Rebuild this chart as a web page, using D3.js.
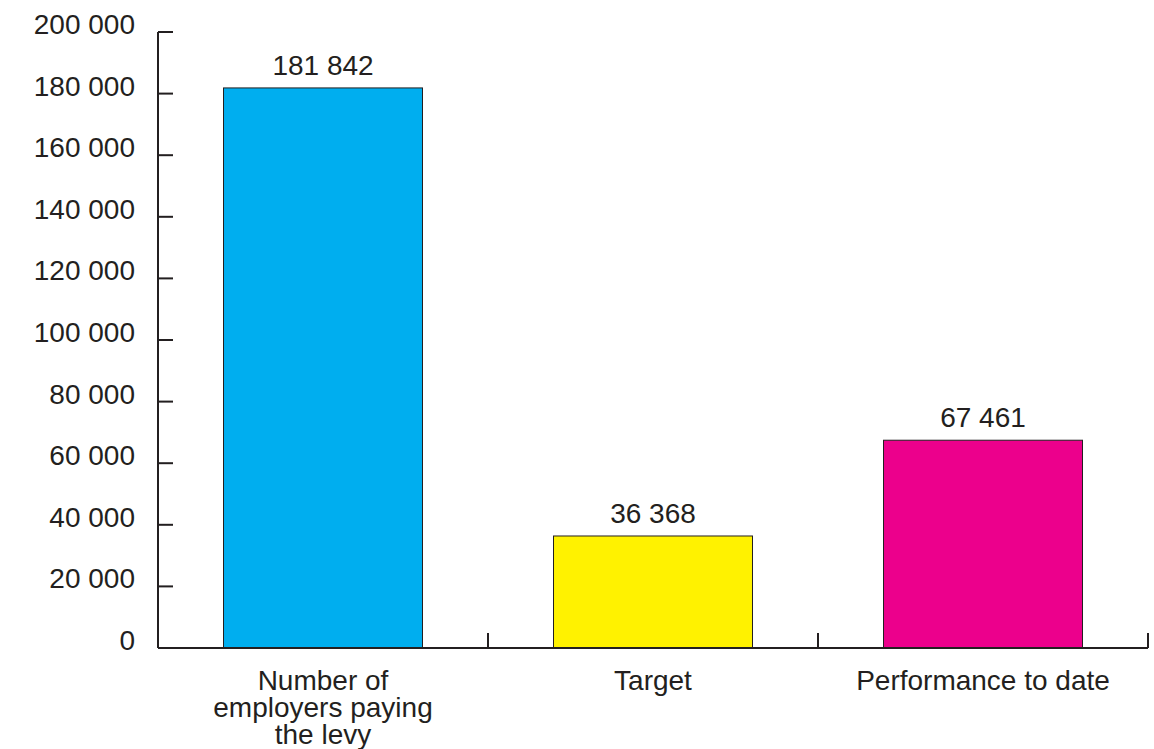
<!DOCTYPE html>
<html>
<head>
<meta charset="utf-8">
<script src="https://cdn.jsdelivr.net/npm/d3@7"></script>
<style>
  html, body { margin: 0; padding: 0; background: #ffffff; }
  svg { display: block; }
  text { font-family: "Liberation Sans", Arial, Helvetica, sans-serif; fill: #231f20; }
</style>
</head>
<body>
<svg id="chart" width="1154" height="749"></svg>
<script>
// Levy-paying employers: totals, target and performance so far
const categories = [
  ["Number of", "employers paying", "the levy"],
  ["Target"],
  ["Performance to date"]
];
const values = [181842, 36368, 67461];
const colors = ["#00aeef", "#fff200", "#ec008c"];
const yTicks = [0, 20000, 40000, 60000, 80000, 100000, 120000, 140000, 160000, 180000, 200000];

const svg = d3.select("#chart");
const ink = "#231f20";
const fontSize = 28;

const x0 = 158, x1 = 1148, yBase = 648, yTop = 32;

const x = d3.scaleBand()
  .domain(d3.range(values.length))
  .range([x0, x1])
  .paddingInner(0.397)
  .paddingOuter(0.1985);

const y = d3.scaleLinear().domain([0, 200000]).range([yBase, yTop]);

const fmt = v => d3.format(",")(v).replace(/,/g, " ");

// bars
svg.append("g").selectAll("rect")
  .data(values)
  .join("rect")
  .attr("x", (d, i) => x(i))
  .attr("y", d => y(d))
  .attr("width", x.bandwidth())
  .attr("height", d => yBase - y(d))
  .attr("fill", (d, i) => colors[i])
  .attr("stroke", ink)
  .attr("stroke-width", 1);

// y axis: vertical line with ticks pointing inward
const yAxis = svg.append("g");
yAxis.append("line")
  .attr("x1", x0).attr("x2", x0)
  .attr("y1", y(200000)).attr("y2", yBase)
  .attr("stroke", ink).attr("stroke-width", 2);
yAxis.selectAll("line.tick")
  .data(yTicks)
  .join("line")
  .attr("class", "tick")
  .attr("x1", x0).attr("x2", x0 + 15)
  .attr("y1", d => y(d)).attr("y2", d => y(d))
  .attr("stroke", ink).attr("stroke-width", 2);
yAxis.selectAll("text")
  .data(yTicks)
  .join("text")
  .attr("x", 135)
  .attr("y", d => y(d) + 2)
  .attr("text-anchor", "end")
  .attr("font-size", fontSize)
  .text(d => fmt(d));

// x axis: baseline with upward ticks at band boundaries
const xAxis = svg.append("g");
xAxis.append("line")
  .attr("x1", x0).attr("x2", x1)
  .attr("y1", yBase).attr("y2", yBase)
  .attr("stroke", ink).attr("stroke-width", 2);
const step = x.step();
const boundaries = d3.range(values.length).map(i => x(i) - x.paddingOuter() * step + step);
xAxis.selectAll("line.tick")
  .data(boundaries)
  .join("line")
  .attr("class", "tick")
  .attr("x1", d => d).attr("x2", d => d)
  .attr("y1", yBase).attr("y2", yBase - 15)
  .attr("stroke", ink).attr("stroke-width", 2);

// category labels
const catG = svg.append("g");
categories.forEach((lines, i) => {
  const t = catG.append("text")
    .attr("text-anchor", "middle")
    .attr("font-size", fontSize)
    .attr("x", x(i) + x.bandwidth() / 2)
    .attr("y", 690);
  lines.forEach((ln, j) => {
    t.append("tspan")
      .attr("x", x(i) + x.bandwidth() / 2)
      .attr("dy", j === 0 ? 0 : 27)
      .text(ln);
  });
});

// value labels above bars
svg.append("g").selectAll("text")
  .data(values)
  .join("text")
  .attr("x", (d, i) => x(i) + x.bandwidth() / 2)
  .attr("y", d => y(d) - 13)
  .attr("text-anchor", "middle")
  .attr("font-size", fontSize)
  .text(d => fmt(d));
</script>
</body>
</html>
